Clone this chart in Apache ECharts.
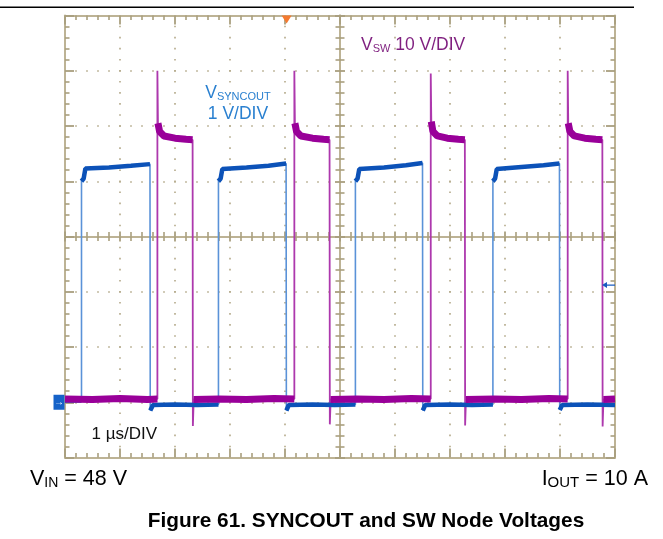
<!DOCTYPE html>
<html><head><meta charset="utf-8">
<script src="https://cdn.jsdelivr.net/npm/echarts@6/dist/echarts.min.js"></script>
<style>html,body{margin:0;padding:0;background:#fff}#c{width:663px;height:539px}</style>
</head><body><div id="c"></div>
<script>
// ---- data (time in µs, volts) ----
const syncTime  = [0, 0.30, 0.30, 0.34, 0.37, 0.8, 1.2, 1.545, 1.55, 1.60, 2.0, 2.4,
                   2.79, 2.79, 2.83, 2.86, 3.3, 3.7, 4.02, 4.025, 4.07, 4.5, 4.9,
                   5.28, 5.28, 5.32, 5.35, 5.8, 6.2, 6.5, 6.505, 6.55, 7.0, 7.4,
                   7.78, 7.78, 7.82, 7.85, 8.3, 8.7, 8.99, 8.995, 9.04, 9.5, 10];
const syncVolts = [0.03, 0.03, 4.0, 4.05, 4.23, 4.25, 4.28, 4.31, -0.15, -0.05, -0.04, -0.05,
                   -0.04, 4.0, 4.05, 4.22, 4.25, 4.28, 4.32, -0.15, -0.05, -0.04, -0.05,
                   -0.04, 4.0, 4.05, 4.22, 4.25, 4.29, 4.33, -0.15, -0.05, -0.04, -0.05,
                   -0.04, 4.0, 4.05, 4.22, 4.26, 4.29, 4.32, -0.14, -0.05, -0.04, -0.05];
const swTime  = [0, 0.5, 1.0, 1.5, 1.68,
                 1.68, 1.69, 1.72, 1.8, 2.0, 2.2, 2.32, 2.325, 2.34,
                 2.8, 3.3, 3.8, 4.17,
                 4.17, 4.18, 4.21, 4.29, 4.5, 4.7, 4.81, 4.815, 4.83,
                 5.3, 5.8, 6.3, 6.65,
                 6.65, 6.66, 6.69, 6.77, 6.95, 7.15, 7.27, 7.275, 7.29,
                 7.8, 8.3, 8.8, 9.14,
                 9.14, 9.15, 9.18, 9.26, 9.45, 9.65, 9.77, 9.775, 9.79,
                 10];
const swVolts = [0.6, 0.5, 0.7, 0.5, 0.6,
                 60, 50.5, 49, 48.2, 47.8, 47.6, 47.5, -4.3, 0.5,
                 0.6, 0.5, 0.7, 0.6,
                 60, 50.5, 49, 48.2, 47.8, 47.6, 47.5, -4.0, 0.5,
                 0.6, 0.5, 0.7, 0.6,
                 59.5, 50.8, 49, 48.2, 47.8, 47.6, 47.5, -4.2, 0.5,
                 0.6, 0.5, 0.7, 0.6,
                 60, 50.5, 49, 48.2, 47.8, 47.6, 47.5, -4.4, 0.5,
                 0.6];
const timeRange = [0, 10];      // 1 µs/DIV, 10 divisions
const syncRange = [-1, 7];      // 1 V/DIV
const swRange   = [-10, 70];    // 10 V/DIV
const triggerTime = 4.03;
const triggerLevel = 2.12;

const labels = {
  sw: ['V', 'SW', ' 10 V/DIV'],
  sync: ['V', 'SYNCOUT'],
  syncScale: '1 V/DIV',
  timeScale: '1 µs/DIV',
  vin: ['V', 'IN', ' = 48 V'],
  iout: ['I', 'OUT', ' = 10 A'],
  caption: 'Figure 61. SYNCOUT and SW Node Voltages'
};

// ---- build ----
const FF = 'Liberation Sans, Arial, Helvetica, sans-serif';
const tan = '#bdb395';
const tick = '#a99f7e';
const dot = '#b3a989';
function pts(ts, vs) { return ts.map((t, i) => [t, vs[i]]); }
function band(ts, vs, thr) {
  const out = [];
  for (let i = 0; i < ts.length; i++) {
    if (i > 0 && Math.abs(vs[i] - vs[i - 1]) > thr) out.push([(ts[i] + ts[i - 1]) / 2, '-']);
    out.push([ts[i], vs[i]]);
  }
  return out;
}
function axisCommon(o) {
  return Object.assign({
    type: 'value', axisLabel: { show: false }, splitLine: { show: false },
    axisLine: { show: true, onZero: false, lineStyle: { color: tan, width: 2 } },
    axisTick: { show: true, inside: true, length: 9, lineStyle: { color: tick, width: 1.8 } },
    minorTick: { show: true, splitNumber: 5, length: 4.5, lineStyle: { color: tick, width: 1.6 } }
  }, o);
}
function centerTicks(inside) {
  return {
    axisLine: { show: true, onZero: false, lineStyle: { color: tan, width: 2 } },
    axisTick: { show: true, inside: inside, length: 5, lineStyle: { color: tick, width: 1.8 } },
    minorTick: { show: true, splitNumber: 5, length: 4.5, lineStyle: { color: tick, width: 1.6 } }
  };
}
function rich(parts, color, size, sub, lh) {
  const base = { fontFamily: FF, fontSize: size, lineHeight: lh, color: color, verticalAlign: 'bottom', fontWeight: 'normal' };
  return {
    text: '{m|' + parts[0] + '}{s|' + parts[1] + '}' + (parts[2] ? '{m|' + parts[2] + '}' : ''),
    textStyle: { fontWeight: 'normal', rich: {
      m: base,
      s: Object.assign({}, base, { fontSize: sub, lineHeight: sub })
    } }
  };
}
const swColor = '#7f1f7f', syncTextColor = '#2a80d0';

const option = {
  animation: false,
  backgroundColor: '#fff',
  grid: { left: 65, top: 15.5, width: 550, height: 442 },
  title: [
    Object.assign({ left: 361, top: 36.5, padding: 0 }, rich(labels.sw, swColor, 17.5, 11, 18)),
    Object.assign({ left: 238, top: 84, textAlign: 'center', padding: 0 }, rich(labels.sync, syncTextColor, 17.5, 11, 18)),
    { left: 238, top: 104.7, textAlign: 'center', padding: 0, text: labels.syncScale,
      textStyle: { fontFamily: FF, fontSize: 17.5, lineHeight: 18, color: syncTextColor, fontWeight: 'normal' } },
    { left: 91.5, top: 425, padding: 0, text: labels.timeScale,
      textStyle: { fontFamily: FF, fontSize: 17, lineHeight: 18, color: '#111', fontWeight: 'normal' } },
    Object.assign({ left: 30, top: 466, padding: 0 }, rich(labels.vin, '#000', 21.5, 14, 24)),
    Object.assign({ right: 15, top: 466, padding: 0 }, rich(labels.iout, '#000', 21.5, 15, 24)),
    { left: 366, top: 509, textAlign: 'center', padding: 0, text: labels.caption,
      textStyle: { fontFamily: FF, fontSize: 20.8, lineHeight: 24, color: '#000', fontWeight: 'bold' } }
  ],
  graphic: [
    { type: 'line', shape: { x1: 0, y1: 7.3, x2: 634, y2: 7.3 }, style: { stroke: '#000', lineWidth: 1.6 } }
  ],
  xAxis: [
    axisCommon({ min: timeRange[0], max: timeRange[1], interval: 1, position: 'bottom',
      splitLine: { show: true, lineStyle: { color: dot, width: 1.6, type: [1.6, 9.45], dashOffset: 0.8 } } }),
    axisCommon({ min: timeRange[0], max: timeRange[1], interval: 1, position: 'top' }),
    axisCommon(Object.assign({ min: timeRange[0], max: timeRange[1], interval: 1, position: 'bottom', offset: -221 }, centerTicks(true))),
    axisCommon(Object.assign({ min: timeRange[0], max: timeRange[1], interval: 1, position: 'bottom', offset: -221 }, centerTicks(false)))
  ],
  yAxis: [
    axisCommon({ min: syncRange[0], max: syncRange[1], interval: 1, position: 'left',
      splitLine: { show: true, lineStyle: { color: dot, width: 1.6, type: [1.6, 9.4], dashOffset: 0.8 } } }),
    axisCommon({ min: swRange[0], max: swRange[1], interval: 10, position: 'right' }),
    axisCommon(Object.assign({ min: syncRange[0], max: syncRange[1], interval: 1, position: 'left', offset: -275 }, centerTicks(true))),
    axisCommon(Object.assign({ min: syncRange[0], max: syncRange[1], interval: 1, position: 'left', offset: -275 }, centerTicks(false)))
  ],
  series: [
    { name: 'SYNCOUT edges', type: 'line', xAxisIndex: 0, yAxisIndex: 0, showSymbol: false, symbol: 'none',
      data: pts(syncTime, syncVolts), lineStyle: { color: '#5a92d8', width: 1.6 }, z: 3 },
    { name: 'SW edges', type: 'line', xAxisIndex: 0, yAxisIndex: 1, showSymbol: false, symbol: 'none',
      data: pts(swTime, swVolts), lineStyle: { color: '#ad38ad', width: 1.8 }, z: 3 },
    { name: 'SYNCOUT', type: 'line', xAxisIndex: 0, yAxisIndex: 0, showSymbol: false, symbol: 'none',
      data: band(syncTime, syncVolts, 0.5), lineStyle: { color: '#0c52b8', width: 4.5 }, z: 4,
      markPoint: { symbolKeepAspect: false, label: { show: false }, data: [
        { coord: [timeRange[0], 0], symbol: 'rect', symbolSize: [11, 15], symbolOffset: [-6, 0],
          itemStyle: { color: '#1562c8' },
          label: { show: true, formatter: '→', color: '#fff', fontSize: 10, position: 'inside', fontFamily: FF } },
        { coord: [timeRange[1], triggerLevel], symbol: 'path://M0,3 L5,0 L5,2.3 L13,2.3 L13,3.7 L5,3.7 L5,6 Z',
          symbolSize: [13, 6], symbolOffset: [-6.5, 0], itemStyle: { color: '#1a5cc0' } },
        { coord: [triggerTime, syncRange[1]], symbol: 'triangle', symbolRotate: 180, symbolSize: [10, 8],
          symbolOffset: [0, 4], itemStyle: { color: '#f47a30' } }
      ] } },
    { name: 'SW', type: 'line', xAxisIndex: 0, yAxisIndex: 1, showSymbol: false, symbol: 'none',
      data: band(swTime, swVolts, 3), lineStyle: { color: '#990099', width: 7 }, z: 5 }
  ]
};
const chart = echarts.init(document.getElementById('c'), null, { renderer: 'canvas' });
chart.setOption(option);
</script></body></html>
